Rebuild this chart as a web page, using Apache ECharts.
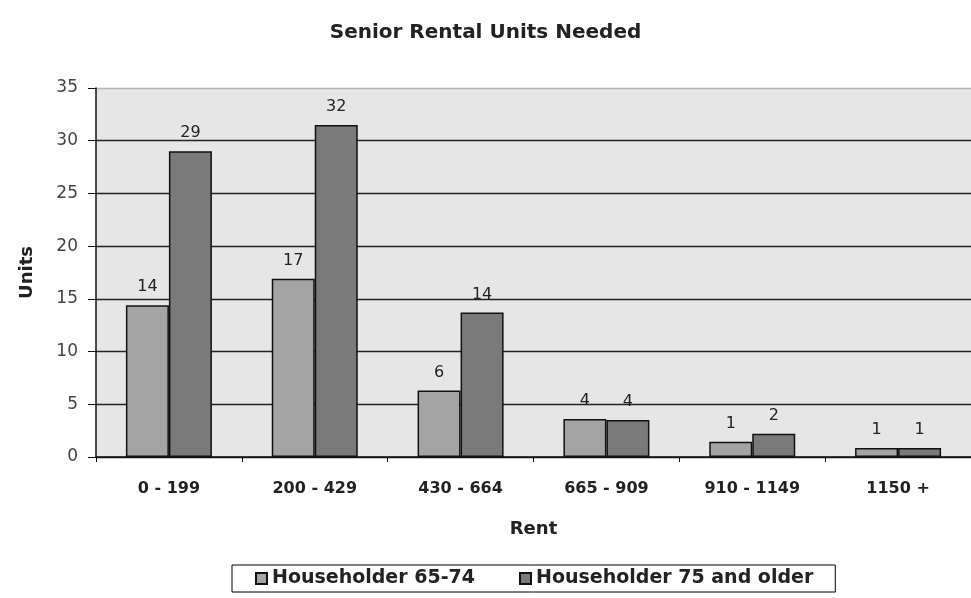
<!DOCTYPE html>
<html>
<head>
<meta charset="utf-8">
<script src="https://cdn.jsdelivr.net/npm/echarts@6/dist/echarts.min.js"></script>
<style>
html, body { margin: 0; padding: 0; background: #fff; }
#chart { width: 971px; height: 598px; }
</style>
</head>
<body>
<div id="chart"></div>
<script>
var categories = ['0 - 199', '200 - 429', '430 - 664', '665 - 909', '910 - 1149', '1150 +'];
var seriesNames = ['Householder 65-74', 'Householder 75 and older'];
var young = [14.4, 16.9, 6.3, 3.6, 1.45, 0.85];
var old = [29.0, 31.5, 13.7, 3.5, 2.2, 0.85];
var yTicks = [0, 5, 10, 15, 20, 25, 30, 35];

var myChart = echarts.init(document.getElementById('chart'));

var barLabel = {
	show: true,
	position: 'top',
	distance: 10,
	color: '#222',
	fontFamily: 'DejaVu Sans',
	fontSize: 16,
	formatter: function(p){ return Math.round(p.value); }
};

var option = {
	backgroundColor: '#fff',
	animation: false,
	title: {
		text: 'Senior Rental Units Needed',
		left: 'center',
		top: 18,
		textStyle: {
			fontFamily: 'DejaVu Sans',
			fontSize: 20,
			fontWeight: 'bold',
			color: '#222'
		}
	},
	legend: {
		data: seriesNames,
		left: 232,
		top: 565,
		padding: [4, 22, 4, 23],
		itemGap: 44,
		itemWidth: 11,
		itemHeight: 11,
		icon: 'rect',
		borderColor: '#000',
		borderWidth: 1,
		textStyle: {
			fontFamily: 'DejaVu Sans',
			fontSize: 19,
			fontWeight: 'bold',
			color: '#222'
		}
	},
	grid: {
		left: 96,
		top: 88,
		width: 884,
		height: 369,
		show: true,
		backgroundColor: '#e6e6e6',
		borderWidth: 0
	},
	xAxis: {
		type: 'category',
		data: categories,
		name: 'Rent',
		nameLocation: 'middle',
		nameGap: 63,
		nameMoveOverlap: false,
		nameTextStyle: {
			fontFamily: 'DejaVu Sans',
			fontSize: 18,
			fontWeight: 'bold',
			color: '#222'
		},
		axisLine: {lineStyle: {color: '#111', width: 1.5}},
		axisTick: {show: true, length: 5, lineStyle: {color: '#111'}},
		axisLabel: {
			margin: 24,
			fontFamily: 'DejaVu Sans',
			fontSize: 16,
			fontWeight: 'bold',
			color: '#222'
		}
	},
	yAxis: {
		type: 'value',
		min: yTicks[0],
		max: yTicks[yTicks.length - 1],
		interval: 5,
		name: 'Units',
		nameLocation: 'middle',
		nameGap: 60,
		nameTextStyle: {
			fontFamily: 'DejaVu Sans',
			fontSize: 18,
			fontWeight: 'bold',
			color: '#222'
		},
		axisLine: {show: true, lineStyle: {color: '#111', width: 1.5}},
		axisTick: {show: true, length: 8, lineStyle: {color: '#111'}},
		axisLabel: {
			margin: 18,
			fontFamily: 'DejaVu Sans',
			fontSize: 17,
			color: '#444'
		},
		splitLine: {
			show: true,
			lineStyle: {
				color: ['#222', '#222', '#222', '#222', '#222', '#222', '#222', '#b5b5b5'],
				width: 1.3
			}
		}
	},
	series: [{
		name: seriesNames[0],
		type: 'bar',
		data: young,
		barWidth: 43,
		barGap: '0%',
		itemStyle: {color: '#a4a4a4', borderColor: '#111', borderWidth: 1.5},
		label: barLabel
	}, {
		name: seriesNames[1],
		type: 'bar',
		data: old,
		barWidth: 43,
		itemStyle: {color: '#7a7a7a', borderColor: '#111', borderWidth: 1.5},
		label: barLabel
	}]
};

myChart.setOption(option);
</script>
</body>
</html>
